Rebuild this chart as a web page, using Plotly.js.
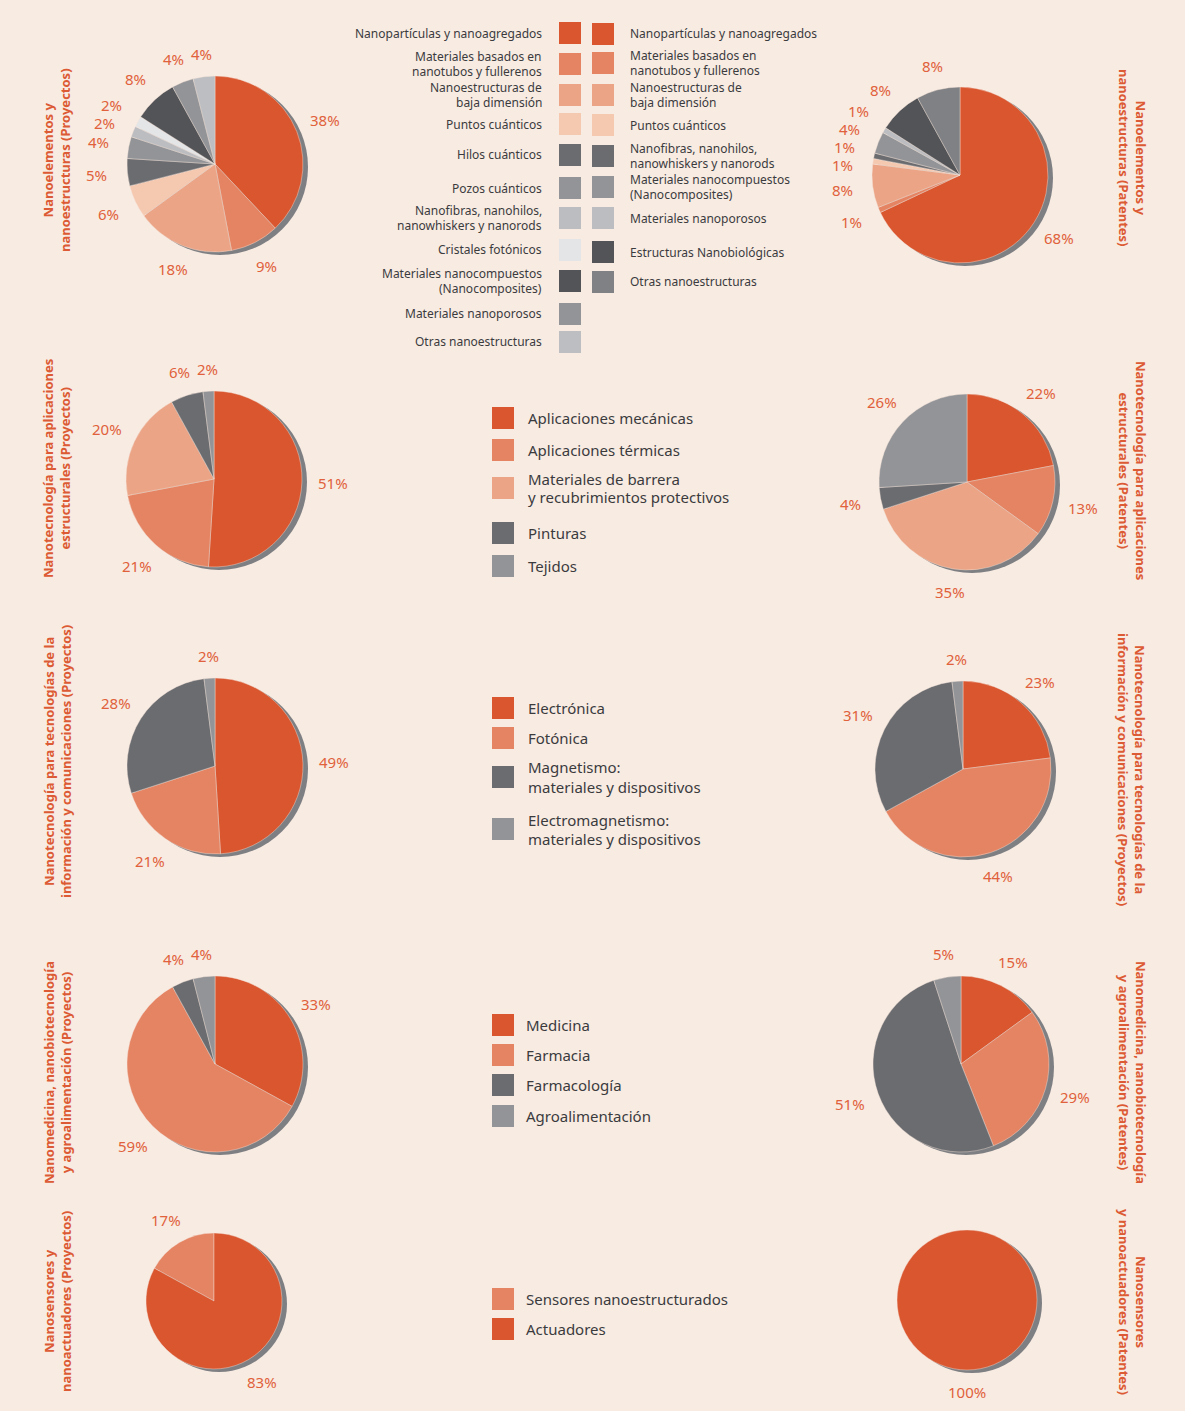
<!DOCTYPE html>
<html><head><meta charset="utf-8">
<script src="https://cdn.plot.ly/plotly-3.0.1.min.js"></script>
<style>body{margin:0;background:#f8ebe2}</style>
</head><body><div id="chart" style="width:1185px;height:1411px"></div>
<script>
// ---------- DATA ----------
const catNanoProy = ['Nanopartículas y nanoagregados','Materiales basados en<br>nanotubos y fullerenos','Nanoestructuras de<br>baja dimensión','Puntos cuánticos','Hilos cuánticos','Pozos cuánticos','Nanofibras, nanohilos,<br>nanowhiskers y nanorods','Cristales fotónicos','Materiales nanocompuestos<br>(Nanocomposites)','Materiales nanoporosos','Otras nanoestructuras'];
const colNanoProy = ['#d9562f','#e58463','#eba485','#f5c8b0','#6b6c70','#939497','#bcbdc0','#e4e5e7','#535457','#939497','#bdbec1'];
const valNanoProy = [38,9,18,6,5,4,2,2,8,4,4];

const catNanoPat = ['Nanopartículas y nanoagregados','Materiales basados en<br>nanotubos y fullerenos','Nanoestructuras de<br>baja dimensión','Puntos cuánticos','Nanofibras, nanohilos,<br>nanowhiskers y nanorods','Materiales nanocompuestos<br>(Nanocomposites)','Materiales nanoporosos','Estructuras Nanobiológicas','Otras nanoestructuras'];
const colNanoPat = ['#d9562f','#e58463','#eba485','#f5c8b0','#6b6c70','#939497','#bcbdc0','#535457','#808184'];
const valNanoPat = [68,1,8,1,1,4,1,8,8];

const catEstr = ['Aplicaciones mecánicas','Aplicaciones térmicas','Materiales de barrera<br>y recubrimientos protectivos','Pinturas','Tejidos'];
const colEstr = ['#d9562f','#e58463','#eba485','#6b6c70','#939497'];
const valEstrProy = [51,21,20,6,2];
const valEstrPat = [22,13,35,4,26];

const catTic = ['Electrónica','Fotónica','Magnetismo:<br>materiales y dispositivos','Electromagnetismo:<br>materiales y dispositivos'];
const colTic = ['#d9562f','#e58463','#6b6c70','#939497'];
const valTicProy = [49,21,28,2];
const valTicPat = [23,44,31,2];

const catMed = ['Medicina','Farmacia','Farmacología','Agroalimentación'];
const colMed = ['#d9562f','#e58463','#6b6c70','#939497'];
const valMedProy = [33,59,4,4];
const valMedPat = [15,29,51,5];

const catSens = ['Sensores nanoestructurados','Actuadores'];
const colSens = ['#e58463','#d9562f'];
const valSensProy = [17,83];
const valSensPat = [0,100];

const titles = [
 'Nanoelementos y<br>nanoestructuras (Proyectos)',
 'Nanoelementos y<br>nanoestructuras (Patentes)',
 'Nanotecnología para aplicaciones<br>estructurales (Proyectos)',
 'Nanotecnología para aplicaciones<br>estructurales (Patentes)',
 'Nanotecnología para tecnologías de la<br>información y comunicaciones (Proyectos)',
 'Nanotecnología para tecnologías de la<br>información y comunicaciones (Proyectos)',
 'Nanomedicina, nanobiotecnología<br>y agroalimentación (Proyectos)',
 'Nanomedicina, nanobiotecnología<br>y agroalimentación (Patentes)',
 'Nanosensores y<br>nanoactuadores (Proyectos)',
 'Nanosensores<br>y nanoactuadores (Patentes)'
];

// ---------- LAYOUT / STYLE ----------
const W = 1185, H = 1411;
const FONT = '"Noto Sans", "Open Sans", sans-serif';
const PCT_CLR = '#e0613b', TITLE_CLR = '#dc5a34', LEG_CLR = '#3b3b3e', SHADOW = '#7e7f82';
const px = x => x / W, py = y => 1 - y / H;

const pies = [
 {cats: catNanoProy, vals: valNanoProy, cols: colNanoProy, cx: 215, cy: 164, r: 88, t: 0, tx: 56, ty: 160, side: 'L'},
 {cats: catNanoPat, vals: valNanoPat, cols: colNanoPat, cx: 960, cy: 175, r: 88, t: 1, tx: 1132, ty: 158, side: 'R'},
 {cats: catEstr, vals: valEstrProy, cols: colEstr, cx: 214, cy: 479, r: 88, t: 2, tx: 57, ty: 469, side: 'L'},
 {cats: catEstr, vals: valEstrPat, cols: colEstr, cx: 967, cy: 482, r: 88, t: 3, tx: 1133, ty: 470, side: 'R'},
 {cats: catTic, vals: valTicProy, cols: colTic, cx: 215, cy: 766, r: 88, t: 4, tx: 57, ty: 762, side: 'L'},
 {cats: catTic, vals: valTicPat, cols: colTic, cx: 963, cy: 769, r: 88, t: 5, tx: 1132, ty: 769, side: 'R'},
 {cats: catMed, vals: valMedProy, cols: colMed, cx: 215, cy: 1064, r: 88, t: 6, tx: 57, ty: 1073, side: 'L'},
 {cats: catMed, vals: valMedPat, cols: colMed, cx: 961, cy: 1064, r: 88, t: 7, tx: 1133, ty: 1072, side: 'R'},
 {cats: catSens, vals: valSensProy, cols: colSens, cx: 214, cy: 1301, r: 68, t: 8, tx: 57, ty: 1302, side: 'L', firstBefore: true},
 {cats: catSens, vals: valSensPat, cols: colSens, cx: 967, cy: 1300, r: 70, t: 9, tx: 1133, ty: 1302, side: 'R', firstBefore: true}
];

const legends = [
 {cats: catNanoProy, cols: colNanoProy, sqx: 559, tx: 543, anchor: 'right', size: 12, gap: 14.6, ys: [33,64,95,124,155,188,218,250,281,314,342]},
 {cats: catNanoPat, cols: colNanoPat, sqx: 592, tx: 629, anchor: 'left', size: 12, gap: 14.6, ys: [34,63,95,125,156,187,218,252,282]},
 {cats: catEstr, cols: colEstr, sqx: 492, tx: 527, anchor: 'left', size: 15, gap: 18, ys: [418,450,488,533,566]},
 {cats: catTic, cols: colTic, sqx: 492, tx: 527, anchor: 'left', size: 15, gap: 19, ys: [708,738,777,829]},
 {cats: catMed, cols: colMed, sqx: 492, tx: 525, anchor: 'left', size: 15, gap: 18, ys: [1025,1055,1085,1116]},
 {cats: catSens, cols: colSens, sqx: 492, tx: 525, anchor: 'left', size: 15, gap: 18, ys: [1299,1329]}
];

const traces = [], shapes = [], annotations = [];

function pctLabels(p, rotDeg) {
  const tot = p.vals.reduce((a, b) => a + b, 0);
  let cum = 0; const out = [];
  p.vals.forEach(v => {
    if (v <= 0) { cum += v; return; }
    const ang = rotDeg * Math.PI / 180 + (cum + v / 2) / tot * 2 * Math.PI; cum += v;
    const rl = p.r + 22 + 9 * Math.abs(Math.sin(ang));
    const txt = v + '%';
    out.push({x: p.cx + rl * Math.sin(ang), y: p.cy - rl * Math.cos(ang), w: txt.length * 8.6 + 3, h: 18, txt});
  });
  for (let it = 0; it < 300; it++) {
    let moved = false;
    for (let i = 0; i < out.length; i++) for (let j = i + 1; j < out.length; j++) {
      const a = out[i], b = out[j];
      const dx = Math.abs(a.x - b.x), dy = Math.abs(a.y - b.y);
      const nx = (a.w + b.w) / 2, ny = (a.h + b.h) / 2;
      if (dx < nx && dy < ny) {
        const push = (ny - dy) / 2 + 0.2;
        if (a.y <= b.y) { a.y -= push; b.y += push; } else { a.y += push; b.y -= push; }
        moved = true;
      }
    }
    if (!moved) break;
  }
  return out;
}

pies.forEach(p => {
  const tot = p.vals.reduce((a, b) => a + b, 0);
  const rot = p.firstBefore ? -360 * p.vals[0] / tot : 0;
  shapes.push({type: 'circle', xref: 'paper', yref: 'paper', layer: 'below',
    x0: px(p.cx - p.r + 5), x1: px(p.cx + p.r + 5), y0: py(p.cy + p.r + 3), y1: py(p.cy - p.r + 3),
    fillcolor: SHADOW, line: {width: 0}});
  traces.push({type: 'pie', values: p.vals, labels: p.cats.map(c => c.replace(/<br>/g, ' ')),
    marker: {colors: p.cols, line: {color: 'rgba(245,228,218,0.7)', width: 0.6}},
    sort: false, direction: 'clockwise', rotation: rot, textinfo: 'none', hoverinfo: 'label+percent',
    showlegend: false,
    domain: {x: [px(p.cx - p.r), px(p.cx + p.r)], y: [py(p.cy + p.r), py(p.cy - p.r)]}});
  pctLabels(p, rot).forEach(l => annotations.push({xref: 'paper', yref: 'paper', x: px(l.x), y: py(l.y),
    text: l.txt, showarrow: false, xanchor: 'center', yanchor: 'middle', borderpad: 0,
    font: {family: FONT, size: 15, color: PCT_CLR}}));
  annotations.push({xref: 'paper', yref: 'paper', x: px(p.tx), y: py(p.ty), text: '<b>' + titles[p.t] + '</b>',
    showarrow: false, xanchor: 'center', yanchor: 'middle', textangle: p.side === 'L' ? -90 : 90, borderpad: 0,
    font: {family: FONT, size: 13, color: TITLE_CLR}});
});

legends.forEach(g => {
  g.cats.forEach((c, i) => {
    const y = g.ys[i];
    shapes.push({type: 'rect', xref: 'paper', yref: 'paper', layer: 'above',
      x0: px(g.sqx), x1: px(g.sqx + 22), y0: py(y + 11), y1: py(y - 11),
      fillcolor: g.cols[i], line: {width: 0}});
    const lines = c.split('<br>');
    lines.forEach((ln, k) => {
      const ly = y + (k - (lines.length - 1) / 2) * g.gap;
      annotations.push({xref: 'paper', yref: 'paper', x: px(g.tx), y: py(ly), text: ln, showarrow: false,
        xanchor: g.anchor, yanchor: 'middle', align: g.anchor, borderpad: 0,
        font: {family: FONT, size: g.size, color: LEG_CLR}});
    });
  });
});

Plotly.newPlot('chart', traces, {
  width: W, height: H, margin: {l: 0, r: 0, t: 0, b: 0},
  paper_bgcolor: '#f8ebe2', plot_bgcolor: 'rgba(0,0,0,0)',
  shapes, annotations, showlegend: false
}, {displayModeBar: false, staticPlot: true});
</script></body></html>
